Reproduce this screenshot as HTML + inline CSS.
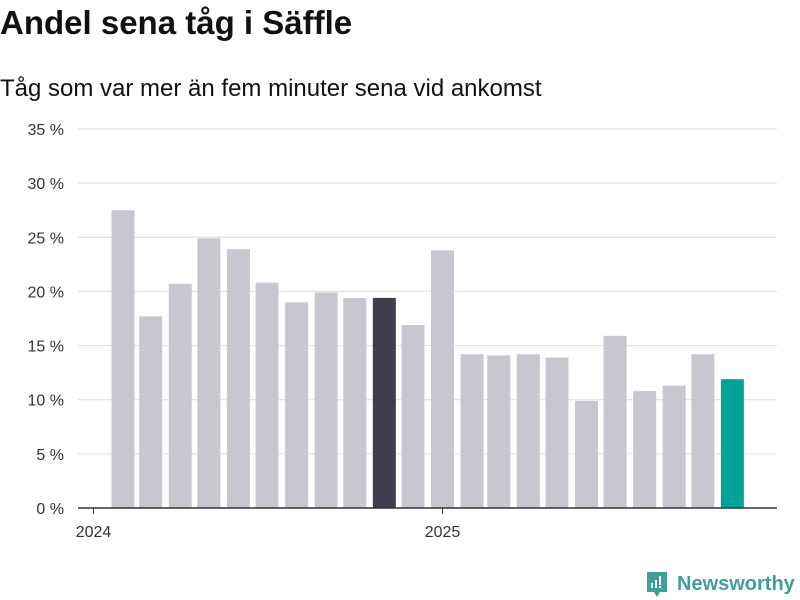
<!DOCTYPE html>
<html><head><meta charset="utf-8"><style>
body{margin:0;width:800px;height:600px;background:#fff;font-family:"Liberation Sans",sans-serif;overflow:hidden;position:relative}
#title{position:absolute;left:0;top:4px;font-size:33px;font-weight:bold;color:#111;margin:0}
#sub{position:absolute;left:0;top:75px;font-size:24px;color:#111}
svg{position:absolute;left:0;top:0}
</style></head><body>
<h1 id="title">Andel sena tåg i Säffle</h1>
<div id="sub">Tåg som var mer än fem minuter sena vid ankomst</div>
<svg id="chart" width="800" height="600"></svg>
<div style="position:absolute;left:645px;top:570px;height:28px;display:flex;align-items:center">
<svg width="24" height="28" style="position:static"><path d="M2 2h20v20h-7l-3 5-3-5H2z" fill="#3f9e98"/><rect x="6" y="13" width="2" height="5" fill="#fff"/><rect x="10" y="10" width="2" height="8" fill="#fff"/><rect x="14" y="6" width="2" height="9" fill="#fff"/><rect x="14" y="16" width="2" height="2" fill="#fff"/></svg>
<span style="margin-left:8px;font-size:20px;color:#3f9e98;font-weight:bold">Newsworthy</span></div>
<script>
const months=["2024-02","2024-03","2024-04","2024-05","2024-06","2024-07","2024-08","2024-09","2024-10","2024-11","2024-12","2025-01","2025-02","2025-03","2025-04","2025-05","2025-06","2025-07","2025-08","2025-09","2025-10","2025-11"];
const values=[27.5,17.7,20.7,24.9,23.9,20.8,19.0,19.9,19.4,19.4,16.9,23.8,14.2,14.1,14.2,13.9,9.9,15.9,10.8,11.3,14.2,11.9];
const yTicks=[0,5,10,15,20,25,30,35];
const xTicks=["2024","2025"];
const highlight="2024-11";
const svg=document.getElementById('chart');const NS="http://www.w3.org/2000/svg";
const t0=Date.UTC(2024,0,1),t1=Date.UTC(2025,0,1);
function x(d){return 93.5+(d-t0)/(t1-t0)*349;}
function y(v){return 508-v*(379/35);}
function mk(tag,a){const e=document.createElementNS(NS,tag);for(const k in a)e.setAttribute(k,a[k]);svg.appendChild(e);return e;}
yTicks.forEach(v=>{
 const l=mk('line',{x1:78,x2:777,y1:y(v),y2:y(v),stroke:'#ddd','stroke-width':1});
 
 
 const t=mk('text',{x:64,y:y(v)+6,'text-anchor':'end','font-size':16,fill:'#333'});t.textContent=v+' %';
 
 
});
months.forEach((m,i)=>{
 const [yy,mm]=m.split('-').map(Number);const cx=x(Date.UTC(yy,mm-1,1));
 const fill=i===months.length-1?'#00a39a':(m===highlight?'#403d4c':'#c8c7d0');
 const r=mk('rect',{x:cx-11.5,y:y(values[i]),width:23,height:y(0)-y(values[i]),fill:fill});
 
 
});
const ax=mk('line',{x1:78,x2:777,y1:508,y2:508,stroke:'#333','stroke-width':1.5});


xTicks.forEach(s=>{
 const cx=x(Date.UTC(+s,0,1));
 const tk=mk('line',{x1:cx,x2:cx,y1:508,y2:514,stroke:'#333'});
 
 
 const t=mk('text',{x:cx,y:537,'text-anchor':'middle','font-size':16,fill:'#333'});t.textContent=s;
 
 
});
</script>
</body></html>
